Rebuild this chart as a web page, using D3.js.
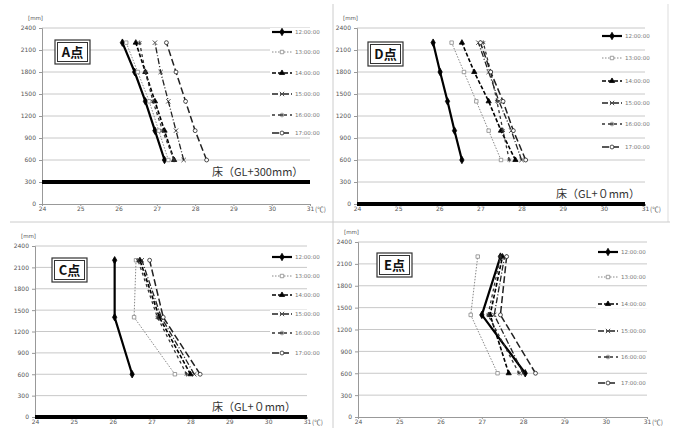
<!DOCTYPE html>
<html>
<head>
<meta charset="utf-8">
<script src="https://cdn.jsdelivr.net/npm/d3@7"></script>
<style>
  body { margin: 0; background: #fff; }
  svg { display: block; }
  .tick text { font-family: "DejaVu Sans", sans-serif; }
</style>
</head>
<body>
<div id="chart"></div>
<script>
// series names (legend)
var seriesNames = ["12:00:00", "13:00:00", "14:00:00", "15:00:00", "16:00:00", "17:00:00"];
var xTicks = [24, 25, 26, 27, 28, 29, 30, 31];
var yTicks = [0, 300, 600, 900, 1200, 1500, 1800, 2100, 2400];

// heights of measuring points [mm]
var heightsA = [600, 1000, 1400, 1800, 2200];
var heightsD = [600, 1000, 1400, 1800, 2200];
var heightsC = [600, 1400, 2200];
var heightsE = [600, 1400, 2200];

// temperatures [C] per series, bottom -> top
var tempsA = [
    [27.2, 26.95, 26.7, 26.42, 26.1],
    [27.3, 27.05, 26.8, 26.5, 26.2],
    [27.45, 27.2, 26.95, 26.7, 26.45],
    [27.7, 27.5, 27.3, 27.1, 26.95],
    [27.45, 27.15, 26.9, 26.7, 26.55],
    [28.3, 28.0, 27.75, 27.5, 27.25]
];
var tempsD = [
    [26.55, 26.37, 26.2, 26.02, 25.85],
    [27.5, 27.2, 26.9, 26.6, 26.3],
    [27.85, 27.5, 27.2, 26.85, 26.55],
    [28.0, 27.75, 27.45, 27.2, 26.95],
    [27.7, 27.55, 27.4, 27.25, 27.07],
    [28.1, 27.8, 27.55, 27.25, 27.0]
];
var tempsC = [
    [26.5, 26.05, 26.05],
    [27.6, 26.55, 26.6],
    [28.0, 27.2, 26.7],
    [28.1, 27.25, 26.75],
    [27.9, 27.15, 26.65],
    [28.25, 27.3, 26.95]
];
var tempsE = [
    [28.05, 27.0, 27.45],
    [27.38, 26.73, 26.9],
    [27.65, 27.2, 27.5],
    [28.0, 27.3, 27.55],
    [27.9, 27.15, 27.45],
    [28.3, 27.45, 27.6]
];

var W = 675, H = 428;
var svg = d3.select("#chart").append("svg")
    .attr("width", W)
    .attr("height", H);

// line / marker styles for the 6 series
var styles = [
    { stroke: "#000", width: 2.2, dash: null, sym: d3.symbolDiamond, size: 16, fill: "#000" },
    { stroke: "#888", width: 1, dash: "1.5,1.5", sym: d3.symbolSquare, size: 12, fill: "#fff" },
    { stroke: "#000", width: 1.6, dash: "4,2", sym: d3.symbolTriangle, size: 12, fill: "#000" },
    { stroke: "#222", width: 1.3, dash: "6,2,1,2", sym: d3.symbolTimes, size: 14, fill: "none" },
    { stroke: "#333", width: 1.3, dash: "3,3", sym: d3.symbolAsterisk, size: 14, fill: "none" },
    { stroke: "#222", width: 1.5, dash: "7,3", sym: d3.symbolCircle, size: 12, fill: "#fff" }
];

// panel frames
svg.append("line").attr("x1", 333).attr("x2", 333).attr("y1", 4).attr("y2", H)
    .attr("stroke", "#ccc").attr("stroke-width", 1);
svg.append("line").attr("x1", 668).attr("x2", 668).attr("y1", 4).attr("y2", 222)
    .attr("stroke", "#ddd").attr("stroke-width", 1);
svg.append("line").attr("x1", 10).attr("x2", 670).attr("y1", 222).attr("y2", 222)
    .attr("stroke", "#ccc").attr("stroke-width", 1);

function drawPanel(p) {
    var x = d3.scaleLinear().domain([24, 31]).range([p.x0, p.x1]);
    var y = d3.scaleLinear().domain([0, 2400]).range([p.y1, p.y0]);
    var g = svg.append("g");

    // gridlines
    g.selectAll(".grid").data(yTicks.slice(1)).enter().append("line")
        .attr("x1", p.x0).attr("x2", p.x1)
        .attr("y1", function (d) { return y(d); })
        .attr("y2", function (d) { return y(d); })
        .attr("stroke", "#c8c8c8").attr("stroke-width", 1);

    // axes
    var ya = g.append("g")
        .attr("transform", "translate(" + p.x0 + ",0)")
        .call(d3.axisLeft(y).tickValues(yTicks).tickSize(3).tickFormat(d3.format("d")));
    var xa = g.append("g")
        .attr("transform", "translate(0," + p.y1 + ")")
        .call(d3.axisBottom(x).tickValues(xTicks).tickSize(2).tickPadding(1).tickFormat(d3.format("d")));
    [ya, xa].forEach(function (a) {
        a.select(".domain").attr("stroke", "#999");
        a.selectAll(".tick line").attr("stroke", "#999");
        a.selectAll(".tick text").attr("font-size", 6).attr("fill", "#555");
    });

    g.append("text").attr("x", p.x0 - 14).attr("y", p.y0 - 8)
        .attr("font-size", 5.5).attr("fill", "#555").attr("font-family", "DejaVu Sans")
        .text("[mm]");
    g.append("text").attr("x", p.x1 + 5).attr("y", p.y1 + 8)
        .attr("font-size", 6.5).attr("fill", "#555").attr("font-family", "Noto Sans CJK JP")
        .text("(℃)");

    // floor
    if (p.floor !== null) {
        g.append("line").attr("x1", p.x0).attr("x2", p.x1)
            .attr("y1", y(p.floor)).attr("y2", y(p.floor))
            .attr("stroke", "#000").attr("stroke-width", 4);
        g.append("text").attr("x", p.floorX).attr("y", y(p.floor) - 6)
            .attr("font-size", 11).attr("fill", "#333").attr("font-family", "Noto Sans CJK JP")
            .text(p.floorLabel);
    }

    // series
    var line = d3.line()
        .x(function (d) { return x(d[0]); })
        .y(function (d) { return y(d[1]); });
    p.temps.forEach(function (t, i) {
        var st = styles[i];
        var pts = t.map(function (v, k) { return [v, p.heights[k]]; });
        g.append("path")
            .attr("d", line(pts))
            .attr("fill", "none")
            .attr("stroke", st.stroke)
            .attr("stroke-width", st.width)
            .attr("stroke-dasharray", st.dash);
        g.selectAll(".m" + i).data(pts).enter().append("path")
            .attr("transform", function (d) { return "translate(" + x(d[0]) + "," + y(d[1]) + ")"; })
            .attr("d", d3.symbol().type(st.sym).size(st.size))
            .attr("fill", st.fill)
            .attr("stroke", st.stroke)
            .attr("stroke-width", 0.8);
    });

    // legend
    seriesNames.forEach(function (name, i) {
        var st = styles[i];
        var ly = p.legY[i];
        g.append("rect").attr("x", p.legX - 2).attr("y", ly - 4).attr("width", 54).attr("height", 8)
            .attr("fill", "#fff");
        g.append("line").attr("x1", p.legX).attr("x2", p.legX + 20)
            .attr("y1", ly).attr("y2", ly)
            .attr("stroke", st.stroke).attr("stroke-width", st.width)
            .attr("stroke-dasharray", st.dash);
        g.append("path")
            .attr("transform", "translate(" + (p.legX + 10) + "," + ly + ")")
            .attr("d", d3.symbol().type(st.sym).size(st.size))
            .attr("fill", st.fill).attr("stroke", st.stroke).attr("stroke-width", 0.8);
        g.append("text").attr("x", p.legX + 23).attr("y", ly + 2)
            .attr("font-size", 5.5).attr("fill", "#777").attr("font-family", "DejaVu Sans")
            .text(name);
    });

    // title box
    g.append("rect").attr("x", p.bx).attr("y", p.by).attr("width", 35).attr("height", 24)
        .attr("fill", "#fff").attr("stroke", "#333").attr("stroke-width", 1.2);
    g.append("rect").attr("x", p.bx + 2.5).attr("y", p.by + 2.5).attr("width", 30).attr("height", 19)
        .attr("fill", "none").attr("stroke", "#333").attr("stroke-width", 1);
    g.append("text").attr("x", p.bx + 17.5).attr("y", p.by + 17)
        .attr("text-anchor", "middle").attr("font-size", 13).attr("font-weight", "bold")
        .attr("font-family", "Noto Sans CJK JP").attr("fill", "#111")
        .text(p.title);
}

drawPanel({ title: "A点", x0: 42, x1: 310, y0: 28, y1: 204, heights: heightsA, temps: tempsA,
    floor: 300, floorX: 212, floorLabel: "床（GL+300mm）",
    legX: 272, legY: [32, 52, 73, 94, 115, 133], bx: 55, by: 40 });
drawPanel({ title: "D点", x0: 357, x1: 645, y0: 28, y1: 204, heights: heightsD, temps: tempsD,
    floor: 0, floorX: 556, floorLabel: "床（GL+０mm）",
    legX: 602, legY: [36, 58, 81, 103, 124, 147], bx: 368, by: 42 });
drawPanel({ title: "C点", x0: 35, x1: 307, y0: 246, y1: 417, heights: heightsC, temps: tempsC,
    floor: 0, floorX: 212, floorLabel: "床（GL+０mm）",
    legX: 272, legY: [257, 276, 295, 314, 333, 353], bx: 52, by: 258 });
drawPanel({ title: "E点", x0: 358, x1: 647, y0: 242, y1: 417, heights: heightsE, temps: tempsE,
    floor: null,
    legX: 598, legY: [252, 277, 304, 331, 357, 383], bx: 377, by: 253 });
</script>
</body>
</html>
